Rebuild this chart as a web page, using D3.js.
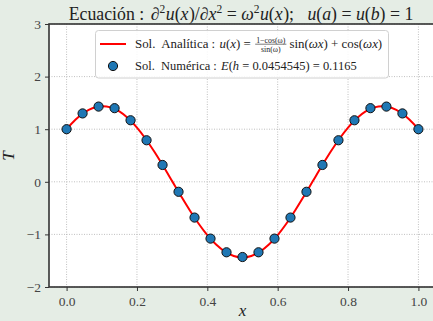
<!DOCTYPE html>
<html>
<head>
<meta charset="utf-8">
<script src="https://cdn.jsdelivr.net/npm/d3@7"></script>
<style>
  body { margin: 0; background: #e5ede5; overflow: hidden; }
  svg { display: block; }
  svg text { font-family: "Liberation Serif", "Times New Roman", serif; white-space: pre; }
</style>
</head>
<body>
<svg id="chart" width="433" height="321"></svg>
<script>
// analytic curve at x step 0.025
const xLine = d3.range(0, 41).map((i) => i / 40);
const uLine = [
  1.0, 1.179, 1.317, 1.403, 1.437, 1.415, 1.337, 1.207, 1.031, 0.814, 0.565,
  0.295, 0.013, -0.269, -0.541, -0.792, -1.012, -1.193, -1.327, -1.41, -1.438,
  -1.41, -1.327, -1.193, -1.012, -0.792, -0.541, -0.269, 0.013, 0.295, 0.565,
  0.814, 1.031, 1.207, 1.337, 1.415, 1.437, 1.403, 1.317, 1.179, 1.0,
];
// numerical points, h = 1/22
const xNum = d3.range(0, 23).map((i) => i / 22);
const uNum = [
  1.0, 1.3, 1.43, 1.4, 1.17, 0.79, 0.32, -0.19, -0.68, -1.08, -1.34, -1.43,
  -1.34, -1.08, -0.68, -0.19, 0.32, 0.79, 1.17, 1.4, 1.43, 1.3, 1.0,
];
const xTicks = [0, 0.2, 0.4, 0.6, 0.8, 1.0];
const yTicks = [-2, -1, 0, 1, 2, 3];

const margin = { left: 49, right: 436, top: 24, bottom: 287 };
const svg = d3.select("#chart");

const x = d3.scaleLinear().domain([-0.05, 1.05]).range([margin.left, margin.right]);
const y = d3.scaleLinear().domain([-2, 3]).range([margin.bottom, margin.top]);

svg.append("rect")
  .attr("x", margin.left).attr("y", margin.top)
  .attr("width", margin.right - margin.left)
  .attr("height", margin.bottom - margin.top)
  .attr("fill", "#fff");

// grid
const grid = svg.append("g").attr("stroke", "#b0b0b0").attr("stroke-width", 0.8)
  .attr("stroke-dasharray", "1,1.5");
grid.selectAll("line.gx").data(xTicks).join("line")
  .attr("x1", (d) => x(d)).attr("x2", (d) => x(d))
  .attr("y1", margin.top).attr("y2", margin.bottom);
grid.selectAll("line.gy").data(yTicks).join("line")
  .attr("y1", (d) => y(d)).attr("y2", (d) => y(d))
  .attr("x1", margin.left).attr("x2", margin.right);

// axes
const fmtMinus = (s) => s.replace("-", "\u2212");
const xAxis = svg.append("g")
  .attr("transform", `translate(0,${margin.bottom})`)
  .call(d3.axisBottom(x).tickValues(xTicks).tickFormat(d3.format(".1f")).tickSize(4).tickPadding(5));
const yAxis = svg.append("g")
  .attr("transform", `translate(${margin.left},0)`)
  .call(d3.axisLeft(y).tickValues(yTicks).tickFormat((d) => fmtMinus(String(d))).tickSize(4).tickPadding(4));
[xAxis, yAxis].forEach((a) => {
  a.select(".domain").remove();
  a.attr("font-family", null).attr("font-size", null);
  a.selectAll(".tick line").attr("stroke", "#333");
  a.selectAll(".tick text")
    .attr("fill", "#444")
    .style("font-family", "'Liberation Serif', serif")
    .style("font-size", "13.5px");
});

// spines
svg.append("rect")
  .attr("x", margin.left).attr("y", margin.top)
  .attr("width", margin.right - margin.left)
  .attr("height", margin.bottom - margin.top)
  .attr("fill", "none").attr("stroke", "#333").attr("stroke-width", 1.6);

// analytic line
const line = d3.line().x((d, i) => x(xLine[i])).y((d) => y(d)).curve(d3.curveCatmullRom);
svg.append("path").datum(uLine)
  .attr("d", line)
  .attr("fill", "none").attr("stroke", "#ff0000").attr("stroke-width", 2);

// numerical points
svg.append("g").selectAll("circle").data(uNum).join("circle")
  .attr("cx", (d, i) => x(xNum[i])).attr("cy", (d) => y(d))
  .attr("r", 4.6).attr("fill", "#1f77b4").attr("stroke", "#111").attr("stroke-width", 1);

// inline text helper: pieces of {t, it, size, dy, gap} or fractions
function writeRun(g, x0, y0, pieces, color, k = 1) {
  let cx = x0;
  pieces.forEach((p) => {
    if (p.frac) {
      const fs = p.size * k;
      const num = g.append("text").attr("font-size", fs).attr("fill", color).text(p.num);
      const den = g.append("text").attr("font-size", fs).attr("fill", color).text(p.den);
      const w = Math.max(num.node().getComputedTextLength(), den.node().getComputedTextLength()) + 2;
      num.attr("x", cx + w / 2).attr("y", y0 - 5.5).attr("text-anchor", "middle");
      den.attr("x", cx + w / 2).attr("y", y0 + 3.8).attr("text-anchor", "middle");
      g.append("line").attr("x1", cx).attr("x2", cx + w)
        .attr("y1", y0 - 3.8).attr("y2", y0 - 3.8).attr("stroke", color).attr("stroke-width", 0.6);
      cx += w + 3;
      return;
    }
    const t = g.append("text").attr("x", cx).attr("y", y0 + (p.dy || 0) * k)
      .attr("font-size", p.size * k).attr("fill", color)
      .attr("font-style", p.it ? "italic" : "normal").text(p.t);
    cx += t.node().getComputedTextLength() + (p.gap || 0) * k;
  });
  return cx - x0;
}

// writes a run scaled so that it spans the given width
function fitRun(x0, y0, pieces, width, color) {
  const probe = svg.append("g");
  const w0 = writeRun(probe, 0, 0, pieces, color);
  probe.remove();
  const g = svg.append("g");
  const w = writeRun(g, 0, y0, pieces, color, width / w0);
  g.attr("transform", `translate(${x0 === null ? 241 - w / 2 : x0},0)`);
  return g;
}

// title
const T = 17;
const titlePieces = [
  { t: "Ecuación : ", size: T, gap: 2 },
  { t: "\u2202", size: T, it: true },
  { t: "2", size: 11, dy: -7, gap: 0.5 },
  { t: "u", size: T, it: true },
  { t: "(", size: T },
  { t: "x", size: T, it: true, gap: 0.5 },
  { t: ")/", size: T },
  { t: "\u2202x", size: T, it: true },
  { t: "2", size: 11, dy: -7 },
  { t: " = ", size: T },
  { t: "\u03C9", size: T, it: true },
  { t: "2", size: 11, dy: -7, gap: 0.5 },
  { t: "u", size: T, it: true },
  { t: "(", size: T },
  { t: "x", size: T, it: true, gap: 0.5 },
  { t: ");   ", size: T },
  { t: "u", size: T, it: true },
  { t: "(", size: T },
  { t: "a", size: T, it: true },
  { t: ") = ", size: T },
  { t: "u", size: T, it: true },
  { t: "(", size: T },
  { t: "b", size: T, it: true },
  { t: ") = 1", size: T },
];
fitRun(null, 20, titlePieces, 345, "#222");

// axis labels
svg.append("text").attr("x", x(0.5)).attr("y", 316).attr("text-anchor", "middle")
  .attr("font-size", 17).attr("font-style", "italic").attr("fill", "#222").text("x");
svg.append("text").attr("transform", "translate(14,156) rotate(-90)")
  .attr("text-anchor", "middle").attr("font-size", 17).attr("font-style", "italic")
  .attr("fill", "#222").text("T");

// legend
const lg = svg.append("g");
lg.append("rect").attr("x", 95.5).attr("y", 30.5).attr("width", 293).attr("height", 47.5)
  .attr("rx", 3).attr("fill", "#fff").attr("fill-opacity", 0.85)
  .attr("stroke", "#d0d0d0").attr("stroke-width", 1);
lg.append("line").attr("x1", 100).attr("x2", 126).attr("y1", 44).attr("y2", 44)
  .attr("stroke", "#ff0000").attr("stroke-width", 2);
lg.append("circle").attr("cx", 113).attr("cy", 66).attr("r", 4.6)
  .attr("fill", "#1f77b4").attr("stroke", "#111").attr("stroke-width", 1);
const L = 11.5;
const legA = [
  { t: "Sol.  Analítica : ", size: L, gap: 1 },
  { t: "u", size: L, it: true },
  { t: "(", size: L },
  { t: "x", size: L, it: true },
  { t: ") = ", size: L, gap: 1 },
  { frac: true, num: "1\u2212cos(\u03C9)", den: "sin(\u03C9)", size: 7 },
  { t: "sin(", size: L },
  { t: "\u03C9x", size: L, it: true },
  { t: ") + cos(", size: L },
  { t: "\u03C9x", size: L, it: true },
  { t: ")", size: L },
];
const legB = [
  { t: "Sol.  Numérica : ", size: L, gap: 1 },
  { t: "E", size: L, it: true },
  { t: "(", size: L },
  { t: "h", size: L, it: true },
  { t: " = 0.0454545) = 0.1165", size: L },
];
fitRun(135, 48, legA, 248, "#222");
fitRun(135, 70, legB, 222, "#222");
</script>
</body>
</html>
